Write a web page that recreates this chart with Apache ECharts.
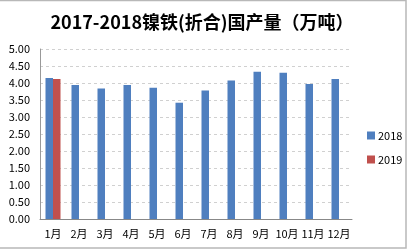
<!DOCTYPE html>
<html><head><meta charset="utf-8">
<script src="https://cdn.jsdelivr.net/npm/echarts@6/dist/echarts.min.js"></script>
<style>html,body{margin:0;padding:0;background:#fff}#c{width:410px;height:250px}</style>
</head><body><div id="c"></div>
<script>
const categories = ['1月','2月','3月','4月','5月','6月','7月','8月','9月','10月','11月','12月'];
const values2018 = [4.15,3.94,3.84,3.94,3.86,3.42,3.78,4.07,4.33,4.30,3.97,4.12];
const values2019 = [4.12,null,null,null,null,null,null,null,null,null,null,null];
const yTicks = [0,0.5,1,1.5,2,2.5,3,3.5,4,4.5,5];
const titleText = '2017-2018镍铁(折合)国产量（万吨）';
const seriesNames = ['2018','2019'];

const chart = echarts.init(document.getElementById('c'), null, {renderer:'canvas'});
const font = '"Noto Sans CJK SC", "Noto Sans", sans-serif';
chart.setOption({
  animation:false,
  title:{text:titleText,left:197,top:8,textAlign:'center',
    textStyle:{fontSize:18,fontWeight:'bold',color:'#000',fontFamily:font}},
  graphic:[{type:'rect',shape:{x:-2,y:0.5,width:408,height:247.5},
    style:{fill:'none',stroke:'#b8b8b8',lineWidth:1.5}}],
  legend:{orient:'vertical',left:362,top:125,itemWidth:8,itemHeight:8,itemGap:13,
    icon:'rect',textStyle:{fontSize:11,color:'#000',fontFamily:font,padding:[0,0,0,-2]},
    data:seriesNames},
  grid:{left:40,right:58,top:49,bottom:31,containLabel:false},
  xAxis:{type:'category',data:categories,
    axisLine:{lineStyle:{color:'#888'}},axisTick:{show:false},
    axisLabel:{fontSize:11,color:'#000',fontFamily:font,margin:9,interval:0}},
  yAxis:{type:'value',min:0,max:5,interval:0.5,
    axisLine:{show:true,lineStyle:{color:'#999'}},axisTick:{show:false},
    splitLine:{lineStyle:{color:'#d0d0d0',type:[3,3]}},
    axisLabel:{fontSize:11,color:'#000',fontFamily:font,margin:10,
      formatter:v=>v.toFixed(2)}},
  series:[
    {name:seriesNames[0],type:'bar',data:values2018,barWidth:7.5,barGap:'0%',
      itemStyle:{color:'#4f7fbf'}},
    {name:seriesNames[1],type:'bar',data:values2019,barWidth:7.5,barGap:'0%',
      itemStyle:{color:'#c0504d'}}
  ]
});
</script></body></html>
